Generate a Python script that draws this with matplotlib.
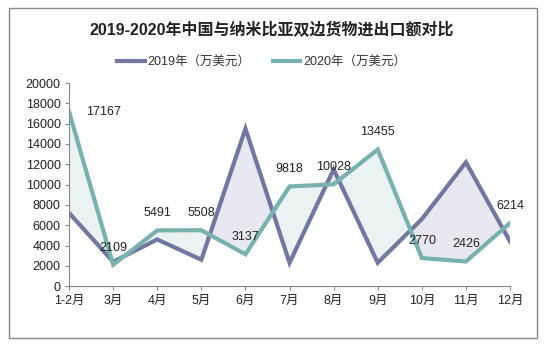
import matplotlib.pyplot as plt
import numpy as np
from matplotlib.patches import Rectangle

plt.rcParams['font.family'] = ['Liberation Sans', 'Noto Sans CJK SC', 'DejaVu Sans']

# 数据
months = ['1-2月', '3月', '4月', '5月', '6月', '7月', '8月', '9月', '10月', '11月', '12月']
v2019 = [7200, 2400, 4600, 2600, 15500, 2300, 11500, 2300, 6600, 12200, 4400]
v2020 = [17167, 2109, 5491, 5508, 3137, 9818, 10028, 13455, 2770, 2426, 6214]

c2019 = '#7277a1'
c2020 = '#78b1ae'

fig = plt.figure(figsize=(5.44, 3.46), dpi=100)
ax = fig.add_axes([0.127, 0.173, 0.8105, 0.587])

x = np.arange(len(months))
a = np.array(v2019, dtype=float)
b = np.array(v2020, dtype=float)

# 填充区域
ax.fill_between(x, a, b, where=b >= a, interpolate=True, color='#eaf3f2', lw=0)
ax.fill_between(x, a, b, where=b < a, interpolate=True, color='#e8e8f1', lw=0)

ax.plot(x, a, color=c2019, lw=3, solid_joinstyle='miter', label='2019年（万美元）')
ax.plot(x, b, color=c2020, lw=3, solid_joinstyle='miter', label='2020年（万美元）')

# 数据标签
for i, v in enumerate(v2020):
    if i == 0:
        ax.annotate(str(v), (x[i], v), xytext=(12, 0), textcoords='offset points',
                    ha='left', va='center', fontsize=9, color='#222222')
    else:
        ax.annotate(str(v), (x[i], v), xytext=(0, 8), textcoords='offset points',
                    ha='center', va='bottom', fontsize=9, color='#222222')

ax.set_xlim(0, len(months) - 1)
ax.set_ylim(0, 20000)
ax.set_yticks(range(0, 20001, 2000))
ax.set_xticks(x)
ax.set_xticklabels(months)
ax.tick_params(axis='both', labelsize=9, colors='#222222', length=3, width=0.8, pad=3)
ax.tick_params(axis='both', color='#888888')

for s in ['top', 'right']:
    ax.spines[s].set_visible(False)
for s in ['left', 'bottom']:
    ax.spines[s].set_color('#888888')
    ax.spines[s].set_linewidth(0.8)

fig.text(0.5, 0.913, '2019-2020年中国与纳米比亚双边货物进出口额对比', ha='center', va='center',
         fontsize=11.5, fontweight='bold', color='#222222')

leg = fig.legend(loc='center', bbox_to_anchor=(0.481, 0.82), ncol=2, frameon=False,
                 fontsize=9, handlelength=2.2, handletextpad=0.2, columnspacing=1.8)
for t in leg.get_texts():
    t.set_color('#333333')

# 外框
fig.add_artist(Rectangle((9 / 544, 1 - 338 / 346), 528 / 544, 330 / 346,
                         transform=fig.transFigure, fill=False, edgecolor='#888888', lw=1))

fig.savefig('out.png', dpi=100)
